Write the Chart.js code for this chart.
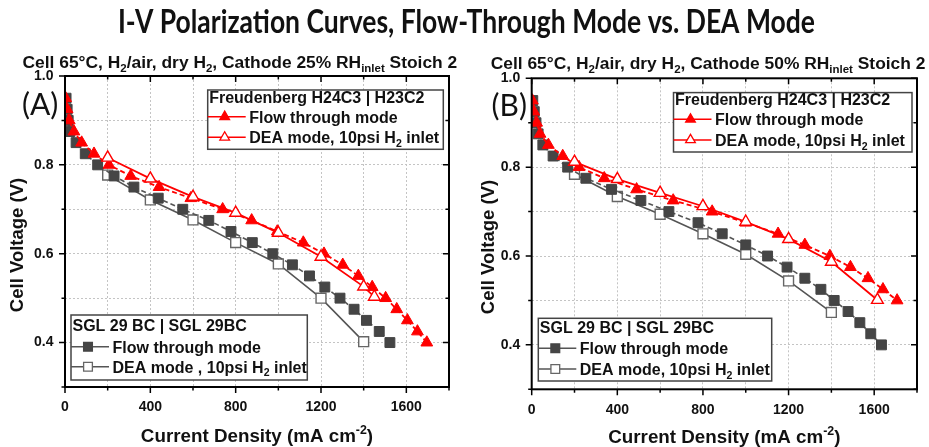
<!DOCTYPE html>
<html><head><meta charset="utf-8">
<script src="https://cdn.jsdelivr.net/npm/chart.js@4.4.0/dist/chart.umd.min.js"></script>
<style>
html,body{margin:0;padding:0;background:#fff;}
body{width:929px;height:447px;overflow:hidden;position:relative;}
canvas{position:absolute;top:0;}
</style></head>
<body>
<canvas id="cA" width="465" height="447" style="left:0px"></canvas>
<canvas id="cB" width="464" height="447" style="left:465px"></canvas>
<canvas id="cT" width="929" height="45" style="left:0px"></canvas>
<script>
// ---------------- DATA ----------------
const TITLE = 'I-V Polarization Curves, Flow-Through Mode vs. DEA Mode';
const X_TICK_LABELS = [0, 400, 800, 1200, 1600];
const Y_TICK_LABELS = [0.4, 0.6, 0.8, 1.0];

// Panel A : cathode 25% RH
const A_ftFreudI = [3,10,20,42,78,136,206,308,441,590,739,875,995,1117,1214,1302,1375,1440,1503,1555,1605,1652,1696];
const A_ftFreudV = [0.95,0.925,0.9,0.875,0.85,0.825,0.8,0.775,0.75,0.725,0.7,0.675,0.65,0.625,0.6,0.575,0.55,0.525,0.5,0.475,0.45,0.425,0.4];
const A_deaFreudI = [200,400,600,800,1000,1200,1400,1450];
const A_deaFreudV = [0.816,0.769,0.728,0.692,0.647,0.593,0.526,0.503];
const A_ftSglI = [5,10,15,23,52,95,153,230,323,437,552,674,778,878,974,1066,1146,1218,1289,1355,1413,1473,1523];
const A_ftSglV = [0.95,0.925,0.9,0.875,0.85,0.825,0.8,0.775,0.75,0.725,0.7,0.675,0.65,0.625,0.6,0.575,0.55,0.525,0.5,0.475,0.45,0.425,0.4];
const A_deaSglI = [200,400,600,800,1000,1200,1400];
const A_deaSglV = [0.777,0.721,0.676,0.625,0.577,0.500,0.402];

// Panel B : cathode 50% RH
const B_ftFreudI = [3,10,23,39,78,145,221,339,490,661,843,1000,1151,1276,1393,1489,1571,1641,1707];
const B_ftFreudV = [0.95,0.925,0.9,0.875,0.85,0.825,0.8,0.775,0.75,0.725,0.7,0.675,0.65,0.625,0.6,0.575,0.55,0.525,0.5];
const B_deaFreudI = [200,400,600,800,1000,1200,1400,1615];
const B_deaFreudV = [0.812,0.773,0.742,0.712,0.677,0.638,0.587,0.501];
const B_ftSglI = [5,12,20,30,52,100,168,253,373,510,641,777,890,1000,1102,1193,1276,1351,1413,1478,1533,1584,1634];
const B_ftSglV = [0.95,0.925,0.9,0.875,0.85,0.825,0.8,0.775,0.75,0.725,0.7,0.675,0.65,0.625,0.6,0.575,0.55,0.525,0.5,0.475,0.45,0.425,0.4];
const B_deaSglI = [200,400,600,800,1000,1200,1400];
const B_deaSglV = [0.784,0.734,0.694,0.650,0.604,0.544,0.473];

// ---------------- STYLE ----------------
const FONT = '"Liberation Sans", Arial, sans-serif';
const RED = '#ff0000';
const GRAY_F = '#454545';
const GRAY_L = '#555555';
const TXT = '#111111';
const LEG_SIZE = 16;

function xy(I, V){ return I.map((x,i)=>({x:x, y:V[i]})); }

function drawRich(ctx, segs, x, y, size, weight, color, align){
  let total = 0;
  const parts = segs.map(s=>{
    const sz = s.s ? size*0.66 : size;
    ctx.font = `${weight} ${sz}px ${FONT}`;
    const w = ctx.measureText(s.t).width;
    total += w;
    return {s, sz, w};
  });
  let cx = align === 'center' ? x - total/2 : x;
  ctx.fillStyle = color; ctx.textAlign = 'left'; ctx.textBaseline = 'alphabetic';
  for (const p of parts){
    ctx.font = `${weight} ${p.sz}px ${FONT}`;
    const dy = p.s.s === 'sub' ? size*0.24 : (p.s.s === 'sup' ? -size*0.38 : 0);
    ctx.fillText(p.s.t, cx, y + dy);
    cx += p.w;
  }
}

function legendBox(ctx, L){
  ctx.save();
  ctx.fillStyle = '#fff';
  ctx.fillRect(L.x, L.y, L.w, L.h);
  ctx.strokeStyle = '#444'; ctx.lineWidth = 1.5;
  ctx.strokeRect(L.x, L.y, L.w, L.h);
  drawRich(ctx, [{t:L.title}], L.x + 1.5, L.y + L.titleDy, LEG_SIZE, 'bold', TXT, 'left');
  L.entries.forEach((e, i)=>{
    const cy = L.y + L.entryDy[i];
    ctx.strokeStyle = e.line; ctx.lineWidth = 1.5; ctx.setLineDash([]);
    ctx.beginPath(); ctx.moveTo(L.x, cy); ctx.lineTo(L.x + 38, cy); ctx.stroke();
    ctx.fillStyle = e.fill; ctx.strokeStyle = e.stroke; ctx.lineWidth = 1.3;
    Chart.helpers.drawPoint(ctx, {pointStyle: e.style, radius: e.r, rotation: 0, borderWidth: 1.3}, L.x + 17, cy);
    drawRich(ctx, e.text, L.x + 41.5, cy + 5.8, LEG_SIZE, 'bold', TXT, 'left');
  });
  ctx.restore();
}

function makeDecor(P){
  return {
    id: 'decor',
    afterDraw(chart){
      const ctx = chart.ctx, a = chart.chartArea;
      const xs = chart.scales.x, ys = chart.scales.y;
      ctx.save();
      // frame
      ctx.strokeStyle = '#000'; ctx.lineWidth = 2; ctx.setLineDash([]);
      ctx.strokeRect(a.left, a.top, a.right - a.left, a.bottom - a.top);
      ctx.lineWidth = 1.5;
      // ticks
      xs.ticks.forEach(t=>{
        const px = xs.getPixelForValue(t.value);
        const len = t.label !== '' ? 6 : 3.5;
        ctx.beginPath();
        ctx.moveTo(px, a.bottom); ctx.lineTo(px, a.bottom + len);
        ctx.moveTo(px, a.top); ctx.lineTo(px, a.top + len);
        ctx.stroke();
      });
      ys.ticks.forEach(t=>{
        const py = ys.getPixelForValue(t.value);
        const len = t.label !== '' ? 6 : 3.5;
        ctx.beginPath();
        ctx.moveTo(a.left - len, py); ctx.lineTo(a.left, py);
        ctx.moveTo(a.right - len, py); ctx.lineTo(a.right, py);
        ctx.stroke();
      });
      // subtitle
      drawRich(ctx, P.subtitle, P.subX, P.subY, 17.4, 'bold', TXT, 'left');
      // panel label
      ctx.font = `30px Lato, ${FONT}`; ctx.fillStyle = TXT; ctx.textAlign = 'left'; ctx.textBaseline = 'alphabetic';
      ctx.fillText(P.label, P.labX, P.labY);
      // axis titles
      drawRich(ctx, [{t:'Current Density (mA cm'},{t:'-2',s:'sup'},{t:')'}], (a.left + a.right)/2, P.xTitleY, 18.8, 'bold', TXT, 'center');
      ctx.save();
      ctx.translate(P.yTitleX, P.yTitleY); ctx.rotate(-Math.PI/2);
      drawRich(ctx, [{t:'Cell Voltage (V)'}], 0, 6.5, 18.5, 'bold', TXT, 'center');
      ctx.restore();
      // legends
      legendBox(ctx, P.topLegend);
      legendBox(ctx, P.botLegend);
      ctx.restore();
    }
  };
}

function makeChart(id, D, P){
  const ds = [
    {data: xy(D.deaSglI, D.deaSglV), borderColor: GRAY_L, borderWidth: 1.6,
     pointStyle: 'rect', pointRadius: 7, pointBackgroundColor: '#fff', pointBorderColor: '#666', pointBorderWidth: 1.4, order: 4},
    {data: xy(D.ftSglI, D.ftSglV), borderColor: GRAY_L, borderWidth: 1.6, borderDash: [5,3],
     pointStyle: 'rect', pointRadius: 7, pointBackgroundColor: GRAY_F, pointBorderColor: GRAY_F, pointBorderWidth: 1, order: 3},
    {data: xy(D.ftFreudI, D.ftFreudV), borderColor: RED, borderWidth: 1.8, borderDash: [5,3],
     pointStyle: 'triangle', pointRadius: 6.8, pointBackgroundColor: RED, pointBorderColor: RED, pointBorderWidth: 1, order: 2},
    {data: xy(D.deaFreudI, D.deaFreudV), borderColor: RED, borderWidth: 1.8,
     pointStyle: 'triangle', pointRadius: 6.8, pointBackgroundColor: '#fff', pointBorderColor: RED, pointBorderWidth: 1.4, order: 1}
  ];
  ds.forEach(d=>{ d.fill = false; d.tension = 0; d.pointHoverRadius = d.pointRadius; });
  return new Chart(document.getElementById(id), {
    type: 'line',
    data: {datasets: ds},
    options: {
      responsive: false, animation: false, events: [],
      layout: {padding: {left: 0, right: P.padR, top: P.padT, bottom: 0}},
      plugins: {legend: {display: false}, tooltip: {enabled: false}, title: {display: false}},
      scales: {
        x: {type: 'linear', min: 0, max: 1800,
            afterFit: s => { s.height = P.xH; },
            ticks: {stepSize: 200, autoSkip: false, maxRotation: 0, padding: 12,
                    callback: v => X_TICK_LABELS.includes(v) ? String(v) : '',
                    font: {family: FONT, weight: 'bold', size: 14}, color: TXT},
            grid: {color: '#c4c4c4', lineWidth: 1, drawTicks: false},
            border: {display: false, dash: [2,2]}},
        y: {type: 'linear', min: 0.3, max: 1.0,
            afterFit: s => { s.width = P.yW; },
            ticks: {stepSize: 0.1, autoSkip: false, padding: 11.5,
                    callback: v => Y_TICK_LABELS.some(t => Math.abs(t - v) < 1e-6) ? v.toFixed(1) : '',
                    font: {family: FONT, weight: 'bold', size: 14}, color: TXT},
            grid: {color: '#c4c4c4', lineWidth: 1, drawTicks: false},
            border: {display: false, dash: [2,2]}}
      }
    },
    plugins: [makeDecor(P)]
  });
}

const freudEntries = [
  {style:'triangle', r:5.6, fill:RED, stroke:RED, line:RED, text:[{t:'Flow through mode'}]},
  {style:'triangle', r:5.6, fill:'#fff', stroke:RED, line:RED, text:[{t:'DEA mode, 10psi H'},{t:'2',s:'sub'},{t:' inlet'}]}
];

const PA = {
  padR: 16, padT: 76, xH: 60, yW: 65,
  subtitle: [{t:'Cell 65°C, H'},{t:'2',s:'sub'},{t:'/air, dry H'},{t:'2',s:'sub'},{t:', Cathode 25% RH'},{t:'inlet',s:'sub'},{t:' Stoich 2'}],
  subX: 22.5, subY: 68,
  label: '(A)', labX: 22, labY: 115,
  xTitleY: 441.5, yTitleX: 16, yTitleY: 245,
  topLegend: {x: 207.7, y: 90, w: 235.6, h: 59.3, title: 'Freudenberg H24C3 | H23C2', titleDy: 12.5, entryDy: [26.7, 47.3], entries: freudEntries},
  botLegend: {x: 71, y: 315, w: 236.3, h: 65, title: 'SGL 29 BC | SGL 29BC', titleDy: 15.8, entryDy: [31.7, 51.7], entries: [
    {style:'rect', r:6.2, fill:GRAY_F, stroke:GRAY_F, line:GRAY_L, text:[{t:'Flow through mode'}]},
    {style:'rect', r:6.2, fill:'#fff', stroke:'#666', line:GRAY_L, text:[{t:'DEA mode , 10psi H'},{t:'2',s:'sub'},{t:' inlet'}]}
  ]}
};
const PB = {
  padR: 12, padT: 78.3, xH: 57.7, yW: 66.7,
  subtitle: [{t:'Cell 65°C, H'},{t:'2',s:'sub'},{t:'/air, dry H'},{t:'2',s:'sub'},{t:', Cathode 50% RH'},{t:'inlet',s:'sub'},{t:' Stoich 2'}],
  subX: 25.7, subY: 69,
  label: '(B)', labX: 26.5, labY: 116,
  xTitleY: 442.5, yTitleX: 22.8, yTitleY: 247,
  topLegend: {x: 208.5, y: 92.6, w: 238.5, h: 59.4, title: 'Freudenberg H24C3 | H23C2', titleDy: 12.5, entryDy: [26.7, 47.3], entries: freudEntries},
  botLegend: {x: 73.3, y: 318.3, w: 233.4, h: 62.7, title: 'SGL 29 BC | SGL 29BC', titleDy: 14.5, entryDy: [30, 50.7], entries: [
    {style:'rect', r:6.2, fill:GRAY_F, stroke:GRAY_F, line:GRAY_L, text:[{t:'Flow through mode'}]},
    {style:'rect', r:6.2, fill:'#fff', stroke:'#666', line:GRAY_L, text:[{t:'DEA mode, 10psi H'},{t:'2',s:'sub'},{t:' inlet'}]}
  ]}
};

makeChart('cA', {ftFreudI:A_ftFreudI, ftFreudV:A_ftFreudV, deaFreudI:A_deaFreudI, deaFreudV:A_deaFreudV,
                 ftSglI:A_ftSglI, ftSglV:A_ftSglV, deaSglI:A_deaSglI, deaSglV:A_deaSglV}, PA);
makeChart('cB', {ftFreudI:B_ftFreudI, ftFreudV:B_ftFreudV, deaFreudI:B_deaFreudI, deaFreudV:B_deaFreudV,
                 ftSglI:B_ftSglI, ftSglV:B_ftSglV, deaSglI:B_deaSglI, deaSglV:B_deaSglV}, PB);

// main title
(function(){
  const c = document.getElementById('cT'), ctx = c.getContext('2d');
  ctx.font = 'bold 32px Lato, "Open Sans", sans-serif';
  const w = ctx.measureText(TITLE).width;
  const target = 697;
  ctx.save();
  ctx.translate(118, 33);
  ctx.scale(target / w, 1);
  ctx.fillStyle = '#111';
  ctx.textBaseline = 'alphabetic';
  ctx.fillText(TITLE, 0, 0);
  ctx.restore();
})();
</script>
</body></html>
